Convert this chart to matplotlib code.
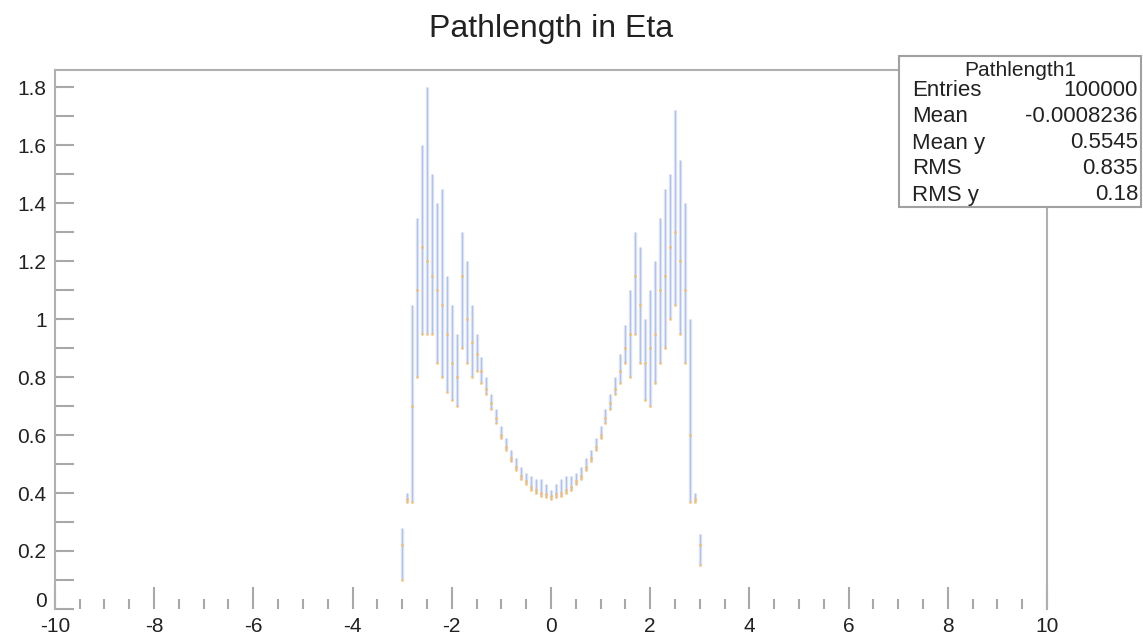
import numpy as np
import matplotlib.pyplot as plt
from matplotlib.patches import Rectangle
from matplotlib.transforms import ScaledTranslation

# eta bins (0.1 wide) and the spread of pathlength seen in each bin
eta = [-3.0, -2.9, -2.8, -2.7, -2.6, -2.5, -2.4, -2.3, -2.2, -2.1,
       -2.0, -1.9, -1.8, -1.7, -1.6, -1.5, -1.4, -1.3, -1.2, -1.1,
       -1.0, -0.9, -0.8, -0.7, -0.6, -0.5, -0.4, -0.3, -0.2, -0.1,
       0.0,
       0.1, 0.2, 0.3, 0.4, 0.5, 0.6, 0.7, 0.8, 0.9, 1.0,
       1.1, 1.2, 1.3, 1.4, 1.5, 1.6, 1.7, 1.8, 1.9, 2.0,
       2.1, 2.2, 2.3, 2.4, 2.5, 2.6, 2.7, 2.8, 2.9, 3.0]
y_lo = [0.10, 0.37, 0.37, 0.80, 0.95, 0.95, 0.95, 0.85, 0.80, 0.75,
        0.72, 0.70, 0.90, 0.85, 0.80, 0.82, 0.78, 0.74, 0.69, 0.64,
        0.59, 0.55, 0.51, 0.48, 0.45, 0.43, 0.41, 0.40, 0.39, 0.385,
        0.38,
        0.385, 0.39, 0.40, 0.41, 0.43, 0.45, 0.48, 0.51, 0.55, 0.59,
        0.64, 0.69, 0.74, 0.78, 0.85, 0.80, 0.95, 0.85, 0.72, 0.70,
        0.78, 0.85, 0.90, 1.00, 1.05, 0.95, 0.85, 0.37, 0.37, 0.15]
y_hi = [0.28, 0.40, 1.05, 1.35, 1.60, 1.80, 1.50, 1.40, 1.45, 1.15,
        1.05, 0.95, 1.30, 1.20, 1.05, 0.95, 0.87, 0.80, 0.74, 0.69,
        0.63, 0.59, 0.55, 0.52, 0.49, 0.47, 0.46, 0.45, 0.45, 0.43,
        0.41,
        0.43, 0.45, 0.46, 0.46, 0.47, 0.49, 0.52, 0.55, 0.59, 0.63,
        0.69, 0.74, 0.80, 0.88, 0.98, 1.10, 1.30, 1.25, 1.00, 1.10,
        1.20, 1.35, 1.45, 1.50, 1.72, 1.55, 1.40, 1.00, 0.40, 0.26]
y_mid = [0.22, 0.38, 0.70, 1.10, 1.25, 1.20, 1.15, 1.10, 1.05, 0.95,
         0.85, 0.80, 1.15, 1.00, 0.92, 0.88, 0.82, 0.76, 0.71, 0.66,
         0.60, 0.56, 0.52, 0.49, 0.46, 0.44, 0.42, 0.41, 0.40, 0.395,
         0.39,
         0.395, 0.40, 0.41, 0.42, 0.44, 0.46, 0.49, 0.52, 0.56, 0.60,
         0.66, 0.71, 0.76, 0.82, 0.90, 0.95, 1.15, 1.05, 0.85, 0.90,
         0.95, 1.10, 1.15, 1.25, 1.30, 1.20, 1.10, 0.60, 0.38, 0.22]

stat_names = ["Entries", "Mean", "Mean y", "RMS", "RMS y"]
stat_vals = ["100000", "-0.0008236", "0.5545", "0.835", "0.18"]

plt.rcParams['font.family'] = ['Liberation Sans', 'DejaVu Sans']
plt.rcParams['axes.unicode_minus'] = False

fig = plt.figure(figsize=(11.43, 6.35), dpi=100)
ax = fig.add_axes([0.048, 0.041, 0.868, 0.849])

ax.vlines(eta, y_lo, y_hi, color='#d3dcf2', lw=2.5, alpha=0.7)
ax.vlines(eta, y_lo, y_hi, color='#a7b9e4', lw=0.9, alpha=0.8)
ax.plot(eta, y_mid, ls='none', marker='.', ms=2.5, color='#f2bd72', alpha=0.7)
ax.plot(eta, y_lo, ls='none', marker='.', ms=2.5, color='#f2bd72', alpha=0.6)

ax.set_xlim(-10, 10)
ax.set_ylim(0, 1.86)
ax.set_xticks(np.arange(-10, 11, 2))
ax.set_xticks(np.arange(-10, 10.1, 0.5), minor=True)
ax.set_yticks(np.arange(0, 1.81, 0.2))
ax.set_yticks(np.arange(0, 1.86, 0.1), minor=True)
ax.set_yticklabels(["0", "0.2", "0.4", "0.6", "0.8", "1", "1.2", "1.4", "1.6", "1.8"])
ax.tick_params(which='both', direction='in', colors='#a8a8a8', labelcolor='#222222',
               labelsize=15, width=1.5)
ax.tick_params(axis='x', which='major', length=16, pad=6)
ax.tick_params(axis='x', which='minor', length=7)
ax.tick_params(axis='y', which='major', length=14, pad=6)
ax.tick_params(axis='y', which='minor', length=14)
ax.spines['bottom'].set_visible(False)
for s in ['left', 'top', 'right']:
    ax.spines[s].set_color('#b0b0b0')
    ax.spines[s].set_linewidth(1.5)

# the "0" on y sits a little above the axis, as in ROOT
lab0 = ax.get_yticklabels()[0]
lab0.set_transform(lab0.get_transform() + ScaledTranslation(0, 7 / 72, fig.dpi_scale_trans))

fig.text(0.482, 0.955, "Pathlength in Eta", ha='center', va='center', fontsize=23, color='#222222')

# stats box
bx0, by0, bw, bh = 899 / 1143, 1 - 207 / 635, 242 / 1143, 151 / 635
fig.patches.append(Rectangle((bx0, by0), bw, bh, transform=fig.transFigure,
                             facecolor='white', edgecolor='#a0a0a0', lw=1.5))
fig.text(bx0 + bw / 2, 1 - 71 / 635, "Pathlength1", ha='center', va='center', fontsize=15, color='#222222')
for i, (n, v) in enumerate(zip(stat_names, stat_vals)):
    yy = 1 - (91 + i * 26) / 635
    fig.text(912 / 1143, yy, n, ha='left', va='center', fontsize=16, color='#222222')
    fig.text(1138 / 1143, yy, v, ha='right', va='center', fontsize=16, color='#222222')

fig.savefig("out.png", dpi=100)
